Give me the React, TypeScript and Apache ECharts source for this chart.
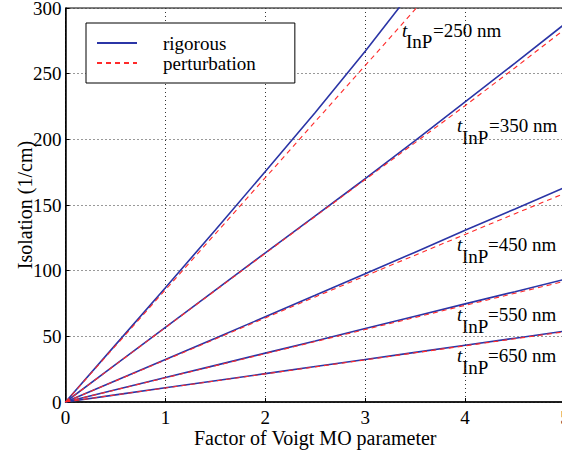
import React, { useEffect, useRef } from "react";
import * as echarts from "echarts";

const xs = [0, 0.5, 1, 1.5, 2, 2.5, 3, 3.5, 4, 4.5, 5];
const thicknesses = ["250", "350", "450", "550", "650"];
const rigorous250 = [0, 43.5, 87, 131, 175.5, 220.5, 267, 316];
const perturbation250 = [0, 42.7, 85.4, 128.1, 170.8, 213.5, 256.2, 298.9, 341.6];
const rigorous350 = [0, 28.4, 56.8, 85.2, 113.6, 141.8, 170, 199, 228.5, 258, 288];
const perturbation350 = [0, 28.3, 56.6, 84.9, 113.2, 141.3, 169.4, 197.5, 225.6, 254.5, 284];
const rigorous450 = [0, 16.2, 32.4, 48.6, 64.9, 81.2, 97.6, 114.1, 130.7, 147, 163.5];
const perturbation450 = [0, 16, 32, 48, 64, 80, 96, 111.8, 127.6, 143.4, 159];
const rigorous550 = [0, 9.3, 18.6, 27.9, 37.2, 46.5, 55.9, 65.3, 74.7, 84, 93.5];
const perturbation550 = [0, 9.2, 18.4, 27.6, 36.8, 46, 55.2, 64.4, 73.6, 82.8, 92];
const rigorous650 = [0, 5.4, 10.8, 16.2, 21.6, 27, 32.4, 37.8, 43.2, 48.6, 54];
const perturbation650 = [0, 5.35, 10.7, 16.05, 21.4, 26.75, 32.1, 37.45, 42.8, 48.15, 53.5];

const rigorousSets = [rigorous250, rigorous350, rigorous450, rigorous550, rigorous650];
const perturbationSets = [perturbation250, perturbation350, perturbation450, perturbation550, perturbation650];

const FONT = "Liberation Serif";
const BLUE = "#2b35a6";
const RED = "#ff2a2a";

// label layout (pixels): [tX, mainY, subX, subY, restX]
const labelPos = [
  [402, 30, 406, 41, 433],
  [457, 125, 462, 137, 489],
  [457, 244, 462, 256, 488],
  [457, 314, 462, 326, 488],
  [457, 355, 462, 367, 488],
];

const toPairs = (ys: number[]) => ys.map((y, i) => [xs[i], y]);

export default function App() {
  const ref = useRef<HTMLDivElement>(null);
  useEffect(() => {
    if (!ref.current) return;
    const chart = echarts.init(ref.current, undefined, { renderer: "svg" });
    const series: any[] = [];
    rigorousSets.forEach((ys) => {
      series.push({
        name: "rigorous",
        type: "line",
        data: toPairs(ys),
        symbol: "none",
        lineStyle: { color: BLUE, width: 1.6 },
        itemStyle: { color: BLUE },
        z: 3,
      });
    });
    perturbationSets.forEach((ys) => {
      series.push({
        name: "perturbation",
        type: "line",
        data: toPairs(ys),
        symbol: "none",
        lineStyle: { color: RED, width: 1.1, type: [5, 4] },
        itemStyle: { color: RED },
        z: 4,
      });
    });
    const graphics: any[] = [];
    thicknesses.forEach((t, i) => {
      const [tx, my, sx, sy, rx] = labelPos[i];
      graphics.push(
        { type: "text", x: tx, y: my, style: { text: "t", fontFamily: FONT, fontStyle: "italic", fontSize: 19, fill: "#000", verticalAlign: "middle" } },
        { type: "text", x: sx, y: sy, style: { text: "InP", fontFamily: FONT, fontSize: 19, fill: "#000", verticalAlign: "middle" } },
        { type: "text", x: rx, y: my, style: { text: `=${t} nm`, fontFamily: FONT, fontSize: 19, fill: "#000", verticalAlign: "middle" } }
      );
    });
    chart.setOption({
      animation: false,
      backgroundColor: "#fff",
      textStyle: { fontFamily: FONT },
      grid: {
        left: 65.5, top: 8, right: -3, bottom: 49,
        outerBoundsMode: "none", containLabel: false,
        show: true, borderColor: "#000", borderWidth: 1,
      },
      legend: {
        data: ["rigorous", "perturbation"],
        orient: "vertical",
        left: 86,
        top: 23,
        itemWidth: 40,
        itemHeight: 20,
        itemGap: 0,
        padding: [10, 39, 10, 10],
        borderColor: "#000",
        borderWidth: 1,
        backgroundColor: "#fff",
        itemStyle: { opacity: 0 },
        textStyle: { fontFamily: FONT, fontSize: 19, color: "#000", lineHeight: 20, padding: [0, 0, 0, 21] },
      },
      xAxis: {
        type: "value",
        min: 0,
        max: 5,
        interval: 1,
        name: "Factor of Voigt MO parameter",
        nameLocation: "middle",
        nameGap: 26,
        nameMoveOverlap: false,
        nameTextStyle: { fontFamily: FONT, fontSize: 20, color: "#000" },
        axisLine: { lineStyle: { color: "#000", width: 1.5 } },
        axisTick: { inside: true, length: 4, lineStyle: { color: "#000" } },
        axisLabel: { fontFamily: FONT, fontSize: 19, color: "#000", margin: 6 },
        splitLine: { show: true, lineStyle: { color: "#333", width: 1, type: [1, 3] } },
      },
      yAxis: {
        type: "value",
        min: 0,
        max: 300,
        interval: 50,
        name: "Isolation (1/cm)",
        nameLocation: "middle",
        nameGap: 31,
        nameMoveOverlap: false,
        nameTextStyle: { fontFamily: FONT, fontSize: 20, color: "#000" },
        axisLine: { lineStyle: { color: "#000", width: 1.5 } },
        axisTick: { inside: true, length: 4, lineStyle: { color: "#000" } },
        axisLabel: { fontFamily: FONT, fontSize: 19, color: "#000", margin: 4 },
        splitLine: { show: true, lineStyle: { color: "#333", width: 1, type: [1, 3] } },
      },
      graphic: graphics,
      series,
    });
    return () => chart.dispose();
  }, []);
  return (
    <div
      ref={ref}
      style={{ position: "absolute", left: 0, top: 0, width: 562, height: 451, background: "#fff" }}
    />
  );
}
